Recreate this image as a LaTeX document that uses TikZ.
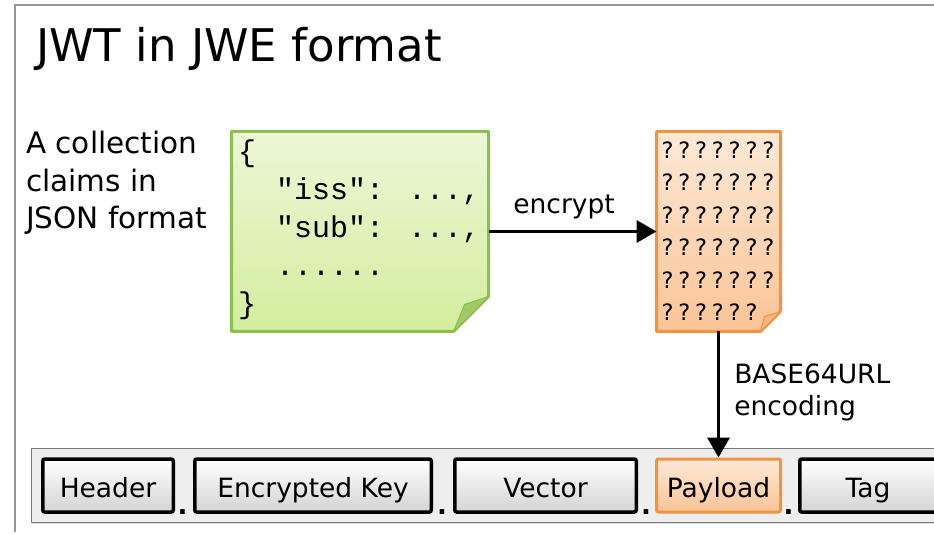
\documentclass[tikz,border=0pt]{standalone}
\usepackage{fontspec}
\setmainfont{DejaVu Sans}
\newfontfamily\codefont{Liberation Mono}
\usetikzlibrary{arrows.meta,calc,shadows}
\definecolor{noteline}{RGB}{140,190,80}
\definecolor{notetop}{RGB}{236,247,214}
\definecolor{notebot}{RGB}{212,237,158}
\definecolor{noteflap}{RGB}{160,202,100}
\definecolor{encline}{RGB}{240,148,66}
\definecolor{enctop}{RGB}{253,233,214}
\definecolor{encbot}{RGB}{250,196,150}
\definecolor{encflap}{RGB}{246,182,126}
\definecolor{framegray}{RGB}{150,150,150}
\definecolor{barfill}{RGB}{238,238,238}

\begin{document}
\begin{tikzpicture}[x=1pt,y=-1pt,every node/.style={inner sep=0pt},
    flow/.style={line width=3.5pt,-{Triangle[length=20pt,width=22pt]}},
    label/.style={font=\fontsize{26.5}{32}\selectfont},
    code/.style={anchor=base west,font=\codefont\fontsize{30}{36}\selectfont},
    qmark/.style={anchor=base,font=\fontsize{22.5}{26}\selectfont},
    part/.style={draw=black,line width=3.5pt,rounded corners=2pt,top color=white,bottom color=black!17,
      minimum height=53pt,text height=26pt,text depth=3pt,font=\fontsize{26.5}{32}\selectfont},
    dotsep/.style={anchor=base,font=\bfseries\fontsize{26}{30}\selectfont}]
  \useasboundingbox (0,0) rectangle (934,534);
  \draw[framegray,line width=1.2pt] (15,532) -- (15,5) -- (934,5);

  \node[anchor=base west,font=\fontsize{45}{54}\selectfont] (title) at (36,62) {JWT in JWE format};
  \node[anchor=north west,align=left,font=\fontsize{29.5}{37.5}\selectfont] (claimstext) at (26,131)
    {A collection\\claims in\\JSON format};

  % plain claims, note with a folded corner
  \node[minimum width=257pt,minimum height=200pt,outer sep=0pt] (claims) at (360,231.5) {};
  \path[draw=noteline,line width=3pt,line join=round,top color=notetop,bottom color=notebot]
    (claims.north west) -- (claims.north east) -- ([yshift=35pt]claims.south east)
    -- ([xshift=-35pt]claims.south east) -- (claims.south west) -- cycle;
  \path[draw=noteline,line width=1pt,line join=round,fill=noteflap]
    ([yshift=35pt]claims.south east) -- ([xshift=-35pt]claims.south east)
    -- ([xshift=-24pt,yshift=27pt]claims.south east) -- cycle;
  \node[code] (json1) at (238,162) {\{};
  \node[code] (json2) at (276,200) {"iss": ...,};
  \node[code] (json3) at (276,238) {"sub": ...,};
  \node[code] (json4) at (276,276) {......};
  \node[code] (json5) at (238,314) {\}};

  % encrypted claims
  \node[minimum width=124pt,minimum height=200pt,outer sep=0pt] (cipher) at (718.5,231.5) {};
  \path[draw=encline,line width=3pt,line join=round,top color=enctop,bottom color=encbot]
    (cipher.north west) -- (cipher.north east) -- ([yshift=20pt]cipher.south east)
    -- ([xshift=-20pt]cipher.south east) -- (cipher.south west) -- cycle;
  \path[draw=encline,line width=1pt,line join=round,fill=encflap]
    ([yshift=20pt]cipher.south east) -- ([xshift=-20pt]cipher.south east)
    -- ([xshift=-16pt,yshift=15pt]cipher.south east) -- cycle;
  \foreach \r/\n in {0/6,1/6,2/6,3/6,4/6,5/5}
    \foreach \c in {0,...,\n}
      \node[qmark] (q\r\c) at ($(cipher.north west)+(11+16.8*\c,27+32.5*\r)$) {?};

  % the five parts of the token
  \node[draw=framegray!80!black,line width=1pt,fill=barfill,minimum width=909pt,minimum height=74pt,
    drop shadow={opacity=0.25,shadow xshift=1pt,shadow yshift=-2pt}] (bar) at (485.5,485) {};
  \node[part,minimum width=130.5pt] (header) at (108,485.5) {Header};
  \node[part,minimum width=236.5pt] (enckey) at (313,485.5) {Encrypted Key};
  \node[part,minimum width=181.5pt] (vector) at (545.5,485.5) {Vector};
  \node[part,minimum width=124pt,draw=encline,line width=3pt,top color=enctop,bottom color=encbot]
    (payload) at (718.5,485.5) {Payload};
  \node[part,minimum width=136.5pt] (tag) at (868,485.5) {Tag};
  \node[dotsep] (dot1) at (182.5,514) {.};
  \node[dotsep] (dot2) at (442,514) {.};
  \node[dotsep] (dot3) at (646,514) {.};
  \node[dotsep] (dot4) at (788.5,514) {.};

  \draw[flow] (claims.east) -- node[label,above=11pt,pos=0.45] (enclabel) {encrypt} (cipher.west);
  \draw[flow] (cipher.south) -- node[label,right=14pt,align=left,yshift=2pt] (b64label)
    {BASE64URL\\encoding} (payload.north);
\end{tikzpicture}
\end{document}
